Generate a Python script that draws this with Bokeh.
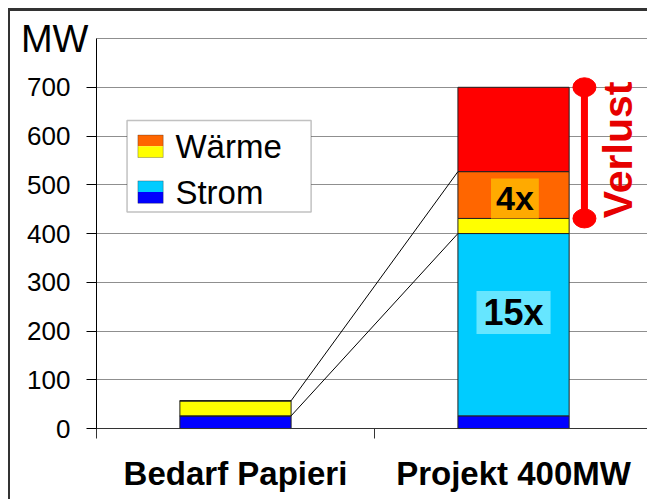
import math
from bokeh.plotting import figure
from bokeh.models import ColumnDataSource, Range1d, FixedTicker, Label, BoxAnnotation, Grid
from bokeh.embed import file_html
from bokeh.resources import INLINE

# ---------------- data ----------------
categories = ["Bedarf Papieri", "Projekt 400MW"]
strom_basis = [26, 26]        # dark blue
strom_zusatz = [0, 374]       # light blue
waerme_basis = [31, 31]       # yellow
waerme_zusatz = [0, 96]       # orange
verlust = [0, 173]            # red
y_ticks = [0, 100, 200, 300, 400, 500, 600, 700]
grid_ticks = [0, 100, 200, 300, 400, 500, 600, 700, 800]
y_unit = "MW"
legend_labels = ["Wärme", "Strom"]
faktor_labels = ["15x", "4x"]
faktor_values = [238, 472]
verlust_label = "Verlust"

FONT = "Liberation Sans"
C_BLUE = "#0000FF"
C_LBLUE = "#00CCFF"
C_YEL = "#FFFF00"
C_ORA = "#FF6600"
C_RED = "#FF0000"

x = [i + 0.5 for i in range(len(categories))]
bar_w = 0.4
x_end = 1.989

src = ColumnDataSource(dict(x=x, s1=strom_basis, s2=strom_zusatz,
                            w1=waerme_basis, w2=waerme_zusatz, v=verlust))

W, H = 639, 491
p = figure(width=W, height=H, x_range=Range1d(-0.302, x_end), y_range=Range1d(-151.7, 837),
           output_backend="svg", toolbar_location=None,
           min_border_left=2, min_border_top=9, min_border_bottom=0, min_border_right=0)
p.styles = {"margin-left": "8px", "margin-top": "8px",
            "border-left": "2px solid #333", "border-top": "3px solid #333"}
p.outline_line_color = None
p.background_fill_color = "white"

# grid
p.xgrid.visible = False
yg = p.ygrid[0]
yg.ticker = FixedTicker(ticks=grid_ticks)
yg.grid_line_color = "#8f8f8f"
yg.grid_line_width = 1
if "cross_bounds" in Grid.properties():
    yg.cross_bounds = (0, x_end)

# bars
p.vbar_stack(["s1", "s2", "w1", "w2", "v"], x="x", width=bar_w, source=src,
             fill_color=[C_BLUE, C_LBLUE, C_YEL, C_ORA, C_RED],
             line_color="#222222", line_width=1)

# connecting lines (left bar top-right -> right bar left)
top_left = strom_basis[0] + strom_zusatz[0] + waerme_basis[0] + waerme_zusatz[0]
strom_left = strom_basis[0] + strom_zusatz[0]
top_right_heat = strom_basis[1] + strom_zusatz[1] + waerme_basis[1] + waerme_zusatz[1]
strom_right = strom_basis[1] + strom_zusatz[1]
p.segment(x0=[x[0] + bar_w / 2] * 2, y0=[top_left, strom_left],
          x1=[x[1] - bar_w / 2] * 2, y1=[top_right_heat, strom_right],
          line_color="black", line_width=1)

# Verlust bracket
heat_start = strom_right + waerme_basis[1]
total_right = top_right_heat + verlust[1]
bx = 1.755
p.segment(x0=[bx], y0=[heat_start], x1=[bx], y1=[total_right], line_color=C_RED, line_width=7)
p.ellipse(x=[bx, bx], y=[heat_start, total_right], width=23, height=19,
          width_units="screen", height_units="screen", fill_color=C_RED, line_color=C_RED)
p.add_layout(Label(x=1.874, y=(heat_start + total_right) / 2 + 6, text=verlust_label,
                   angle=math.pi / 2, text_align="center", text_baseline="middle",
                   text_font=FONT, text_font_style="bold", text_font_size="41px",
                   text_color="#E60000"))

# factor labels
p.add_layout(Label(x=x[1], y=faktor_values[0], text=faktor_labels[0], text_align="center",
                   text_baseline="middle", text_font=FONT, text_font_style="bold",
                   text_font_size="36px", text_color="black",
                   background_fill_color="#66E6FF", padding=(7, 1)))
p.add_layout(Label(x=x[1] + 0.005, y=faktor_values[1], text=faktor_labels[1], text_align="center",
                   text_baseline="middle", text_font=FONT, text_font_style="bold",
                   text_font_size="34px", text_color="black",
                   background_fill_color="#FFAA00", padding=(5, 1)))

# axes (drawn at fixed data locations so their labels stay inside the canvas)
ya = p.yaxis[0]
ya.fixed_location = 0
ya.bounds = (0, 800)
ya.ticker = FixedTicker(ticks=y_ticks)
ya.major_label_text_font = FONT
ya.major_label_text_font_size = "26px"
ya.major_label_text_color = "black"
ya.major_tick_out = 10
ya.major_tick_in = 0
ya.minor_tick_out = 0
ya.minor_tick_in = 0
ya.major_label_standoff = 16
ya.axis_line_color = "black"
ya.major_tick_line_color = "black"

xa = p.xaxis[0]
xa.fixed_location = 0
xa.bounds = (0, x_end)
xa.ticker = FixedTicker(ticks=x, minor_ticks=[0, 1, 2])
xa.major_label_overrides = {x[i]: categories[i] for i in range(len(categories))}
xa.major_label_text_font = FONT
xa.major_label_text_font_style = "bold"
xa.major_label_text_font_size = "33px"
xa.major_label_text_color = "black"
xa.major_tick_out = 0
xa.major_tick_in = 0
xa.minor_tick_out = 10
xa.minor_tick_in = 0
xa.minor_tick_line_color = "#333333"
xa.axis_line_color = "#333333"
xa.major_label_standoff = 16

p.add_layout(Label(x=-0.029, y=grid_ticks[-1], text=y_unit, text_align="right",
                   text_baseline="middle", text_font=FONT, text_font_size="38px",
                   text_color="black"))

# manual legend
lg_l, lg_r, lg_t, lg_b = 0.11, 0.772, 632, 444
p.add_layout(BoxAnnotation(left=lg_l, right=lg_r, top=lg_t, bottom=lg_b,
                           fill_color="white", fill_alpha=1.0,
                           line_color="#333333", line_width=1.5))
sw_l, sw_r = 0.149, 0.24
legend_rows = [
    (legend_labels[0], 579, C_ORA, C_YEL),
    (legend_labels[1], 485, C_LBLUE, C_BLUE),
]
for name, yc, c_top, c_bot in legend_rows:
    p.add_layout(BoxAnnotation(left=sw_l, right=sw_r, top=yc + 23, bottom=yc,
                               fill_color=c_top, fill_alpha=1.0, line_color=None))
    p.add_layout(BoxAnnotation(left=sw_l, right=sw_r, top=yc, bottom=yc - 23,
                               fill_color=c_bot, fill_alpha=1.0, line_color=None))
    p.add_layout(BoxAnnotation(left=sw_l, right=sw_r, top=yc + 23, bottom=yc - 23,
                               fill_alpha=0.0, line_color="#222222", line_width=1))
    p.add_layout(Label(x=0.284, y=yc, text=name, text_align="left", text_baseline="middle",
                       text_font=FONT, text_font_size="33px", text_color="black"))

open("out.html", "w").write(file_html(p, INLINE))
